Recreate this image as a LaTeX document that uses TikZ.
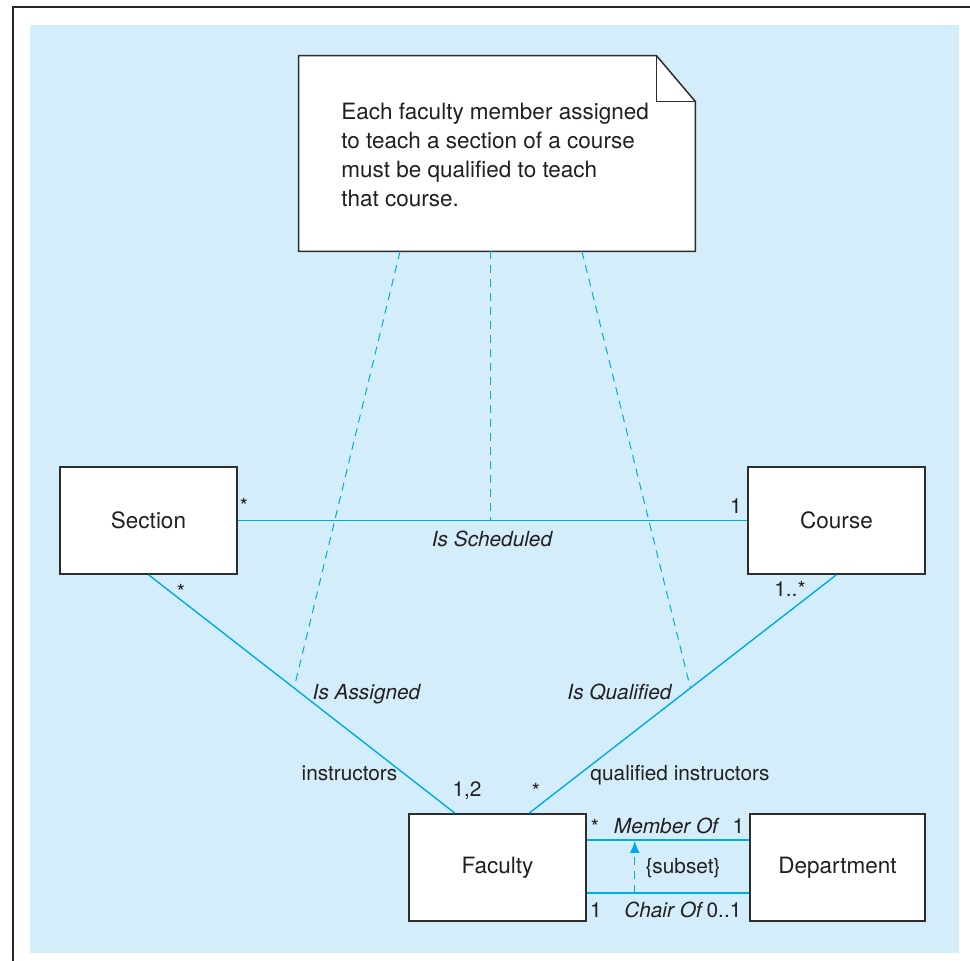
\documentclass[tikz,border=0pt]{standalone}
\usepackage{fontspec}
\setmainfont{TeX Gyre Heros}
\usetikzlibrary{arrows.meta}
\definecolor{panelblue}{RGB}{211,238,250}
\definecolor{linkblue}{RGB}{0,170,230}
\definecolor{inkgray}{RGB}{35,31,32}
\definecolor{edgegray}{RGB}{45,45,45}
\begin{document}
\begin{tikzpicture}[x=0.5pt,y=-0.5pt,
  classbox/.style={draw=edgegray,fill=white,line width=0.75pt,minimum width=88.5pt,minimum height=53.5pt,inner sep=0pt,text=inkgray,font=\fontsize{11.25}{13.5}\selectfont},
  rolelbl/.style={anchor=base,inner sep=0pt,text=inkgray,font=\fontsize{10.4}{12.5}\selectfont},
  assoclbl/.style={rolelbl,font=\fontsize{10.4}{12.5}\selectfont\itshape},
  assoc/.style={draw=linkblue,line width=0.7pt},
  constraint/.style={draw=linkblue,line width=0.5pt,dash pattern=on 4pt off 3pt}]
\useasboundingbox (0,0) rectangle (970,961);
\fill[panelblue] (30,25) rectangle (959,953);
\draw[black!85,line width=1.2pt] (970,7) -- (13,7) -- (13,961);
\node[minimum width=198pt,minimum height=97.5pt,inner sep=0pt] (note) at (497,153.5) {};
\filldraw[fill=white,draw=edgegray,line width=0.75pt] (note.north west) -- ([xshift=-19.5pt]note.north east) -- ([yshift=-23pt]note.north east) -- (note.south east) -- (note.south west) -- cycle;
\draw[edgegray,line width=0.75pt] ([xshift=-19.5pt]note.north east) |- ([yshift=-23pt]note.north east);
\node[anchor=west,align=left,inner sep=0pt,text=inkgray,font=\fontsize{11.25}{14.5}\selectfont] (notetext) at (341,154.5) {Each faculty member assigned\\to teach a section of a course\\must be qualified to teach\\that course.};
\node[classbox] (section) at (148.5,520.5) {Section};
\node[classbox] (course) at (836.5,520.5) {Course};
\node[classbox] (faculty) at (497.5,867.5) {Faculty};
\node[classbox,minimum width=87.5pt] (department) at (837.5,867.5) {Department};
\draw[assoc] (section.east) -- (course.west);
\draw[assoc] (section.south) -- coordinate[pos=0.475] (assignpt) ([xshift=-21.25pt]faculty.north);
\draw[assoc] (course.south) -- coordinate[pos=0.475] (qualpt) ([xshift=15.75pt]faculty.north);
\draw[assoc] ([yshift=13.75pt]faculty.east) -- ([yshift=13.75pt]department.west);
\draw[assoc] ([yshift=-12.75pt]faculty.east) -- ([yshift=-12.75pt]department.west);
\draw[constraint] ([xshift=-48.5pt]note.south) -- (assignpt);
\draw[constraint] ([xshift=-3.5pt]note.south) -- ([xshift=-3.5pt]note.south |- section.east);
\draw[constraint] ([xshift=42.5pt]note.south) -- (qualpt);
\draw[constraint,-{Latex[length=6pt,width=5pt]}] ([xshift=24pt,yshift=-12.75pt]faculty.east) -- ([xshift=24pt,yshift=13.25pt]faculty.east);
\node[rolelbl] (schedmany) at (244,514) {*};
\node[rolelbl] (schedone) at (736,514) {1};
\node[assoclbl] (schedlbl) at (492,547) {Is Scheduled};
\node[rolelbl] (secmany) at (181,600) {*};
\node[rolelbl] (coursemany) at (790,597) {1..*};
\node[assoclbl] (assignlbl) at (366.5,700) {Is Assigned};
\node[assoclbl] (quallbl) at (619.5,700) {Is Qualified};
\node[rolelbl] (instrlbl) at (349.5,781) {instructors};
\node[rolelbl] (qualinstr) at (680,781) {qualified instructors};
\node[rolelbl] (assignnum) at (467,797) {1,2};
\node[rolelbl] (qualmany) at (536,799) {*};
\node[rolelbl] (membermany) at (595,835) {*};
\node[assoclbl] (memberlbl) at (666,834) {Member Of};
\node[rolelbl] (memberone) at (738.5,834) {1};
\node[rolelbl] (subsetlbl) at (683,874) {\{subset\}};
\node[rolelbl] (chairone) at (596,918) {1};
\node[assoclbl] (chairlbl) at (663,918) {Chair Of};
\node[rolelbl] (chairopt) at (724,918) {0..1};
\end{tikzpicture}
\end{document}
